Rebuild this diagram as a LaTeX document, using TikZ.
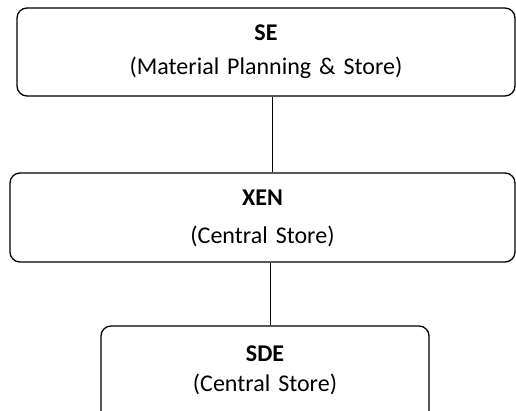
\documentclass[tikz,border=0pt]{standalone}
\usepackage{fontspec}
\setmainfont{Carlito}
\usepackage{tikz}
\usetikzlibrary{positioning}

\tikzset{
  post/.style={draw, line width=1.3pt, rounded corners=10pt, align=center, inner sep=0pt},
  link/.style={draw, line width=0.8pt},
}

\begin{document}
\begin{tikzpicture}[x=1pt, y=1pt]
\clip (0,0) rectangle (516,-410);
\node (se) [post, text width=498pt, text height=32pt, text depth=56pt,
  font=\fontsize{24}{34}\selectfont] at (266,-52) {\textbf{SE}\\(Material Planning \& Store)};
\node (xen) [post, text width=505pt, text height=32pt, text depth=57pt,
  font=\fontsize{24}{38}\selectfont, below of=se, node distance=165.5pt, xshift=-3.5pt] {\textbf{XEN}\\(Central Store)};
\node (sde) [post, text width=328pt, text height=35pt, text depth=70pt,
  font=\fontsize{24}{30}\selectfont, below of=xen, node distance=161pt, xshift=2.5pt] {\textbf{SDE}\\(Central Store)};
\draw[link] ([xshift=6pt]se.south) -- ([xshift=9.5pt]xen.north);
\draw[link] ([xshift=7.5pt]xen.south) -- ([xshift=5pt]sde.north);
\end{tikzpicture}
\end{document}
